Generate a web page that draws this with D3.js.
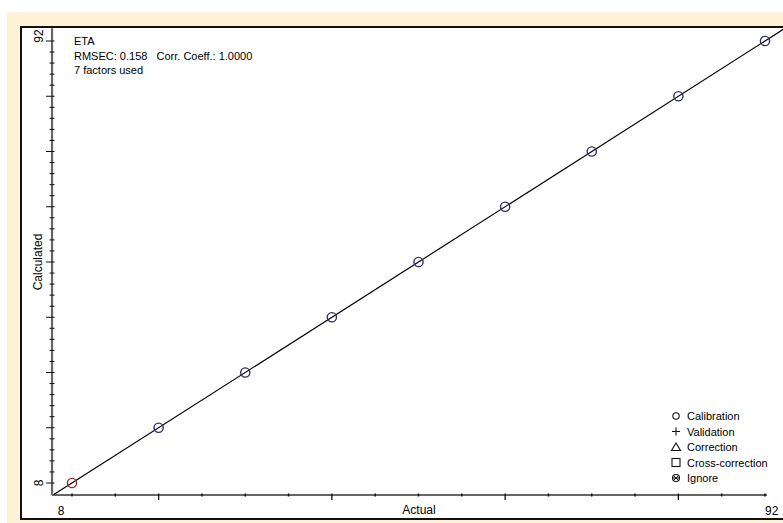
<!DOCTYPE html>
<html><head><meta charset="utf-8">
<script src="https://cdn.jsdelivr.net/npm/d3@7"></script>
<style>
html,body{margin:0;padding:0;background:#fff;}
svg text{font-family:"Liberation Sans",Arial,sans-serif;fill:#000;}
</style></head>
<body>
<svg id="c" width="783" height="523"></svg>
<script>
// ---- data ----
const actual     = [8, 18.5, 29, 39.5, 50, 60.5, 71, 81.5, 92];
const calculated = [8, 18.5, 29, 39.5, 50, 60.5, 71, 81.5, 92];
const xTickLabels = ["8", "92"];
const yTickLabels = ["8", "92"];
const infoLines = ["ETA", "RMSEC: 0.158   Corr. Coeff.: 1.0000", "7 factors used"];
const legendItems = ["Calibration", "Validation", "Correction", "Cross-correction", "Ignore"];
const fitLine = [5.8, 95];

const svg = d3.select("#c");
// background
svg.append("rect").attr("x",7).attr("y",12).attr("width",776).attr("height",511).attr("fill","#fdf2d8");
svg.append("rect").attr("x",21).attr("y",27).attr("width",770).attr("height",492)
   .attr("fill","#fff").attr("stroke","#111").attr("stroke-width",2);

const x = d3.scaleLinear().domain([8,92]).range([72,765]);
const y = d3.scaleLinear().domain([8,92]).range([483,41]);
const xExt = [5.58, 92.24], yExt = [5.72, 94.4];
const x0 = x(xExt[0]), y0 = y(yExt[0]);

svg.append("clipPath").attr("id","clip").append("rect").attr("x",22).attr("y",28).attr("width",761).attr("height",490);

// axis lines
svg.append("line").attr("x1",x(xExt[0])).attr("x2",x(xExt[1])).attr("y1",y0).attr("y2",y0).attr("stroke","#666").attr("stroke-width",2.2);
svg.append("line").attr("x1",x0).attr("x2",x0).attr("y1",y(yExt[1])).attr("y2",y0).attr("stroke","#666").attr("stroke-width",2.2);

// x ticks
const xMinor = d3.range(0,17).map(i=>8+i*5.25).filter((v,i)=>(i%4)!==2);
const xMajor = d3.range(0,4).map(i=>18.5+i*21);
const gx = svg.append("g");
gx.selectAll(".xm").data(xMinor).join("line").attr("x1",d=>x(d)).attr("x2",d=>x(d)).attr("y1",y0-1.5).attr("y2",y0+1.5).attr("stroke","#111").attr("stroke-width",1.5);
gx.selectAll(".xM").data(xMajor).join("line").attr("x1",d=>x(d)).attr("x2",d=>x(d)).attr("y1",y0-1.5).attr("y2",y0+5).attr("stroke","#111").attr("stroke-width",1.3);

// y ticks
const yAll = d3.range(0,41).map(i=>8+i*2.1);
const gy = svg.append("g");
gy.selectAll("line").data(yAll).join("line")
  .attr("x1",(d,i)=> i%5===0 ? x0-6 : x0-2.5).attr("x2",x0+2.5)
  .attr("y1",d=>y(d)).attr("y2",d=>y(d)).attr("stroke","#111").attr("stroke-width",1);

// tick labels
svg.append("text").attr("x",61).attr("y",515).attr("text-anchor","middle").attr("font-size",12).text(xTickLabels[0]);
svg.append("text").attr("x",765).attr("y",515).attr("text-anchor","start").attr("font-size",12).text(xTickLabels[1]);
svg.append("text").attr("transform",`translate(43,${y(8)}) rotate(-90)`).attr("text-anchor","middle").attr("font-size",12).text(yTickLabels[0]);
svg.append("text").attr("transform",`translate(43,36) rotate(-90)`).attr("text-anchor","middle").attr("font-size",12).text(yTickLabels[1]);

// axis titles
svg.append("text").attr("x",419).attr("y",514).attr("text-anchor","middle").attr("font-size",12).text("Actual");
svg.append("text").attr("transform",`translate(42,262) rotate(-90)`).attr("text-anchor","middle").attr("font-size",12).text("Calculated");

// fit line
svg.append("line").attr("clip-path","url(#clip)")
  .attr("x1",x(fitLine[0])).attr("y1",y(fitLine[0])).attr("x2",x(fitLine[1])).attr("y2",y(fitLine[1]))
  .attr("stroke","#000").attr("stroke-width",1.2);

// points
svg.selectAll(".pt").data(actual).join("circle")
  .attr("cx",d=>x(d)).attr("cy",(d,i)=>y(calculated[i])).attr("r",4.6)
  .attr("fill","none").attr("stroke",(d,i)=> i===0 ? "#9a2b2b" : "#2e2e6e").attr("stroke-width",1.4);

// info text
svg.selectAll(".info").data(infoLines).join("text")
  .attr("x",74).attr("y",(d,i)=>45+i*14.5).attr("font-size",11).style("white-space","pre").attr("xml:space","preserve").text(d=>d);

// legend
const lg = svg.append("g");
const ly = i => 416 + i*15.5;
legendItems.forEach((t,i)=>{
  lg.append("text").attr("x",687).attr("y",ly(i)+4).attr("font-size",11).text(t);
});
lg.append("circle").attr("cx",676).attr("cy",ly(0)).attr("r",3.2).attr("fill","none").attr("stroke","#111").attr("stroke-width",1.1);
lg.append("path").attr("d",`M672,${ly(1)}h8M676,${ly(1)-4}v8`).attr("stroke","#111").attr("stroke-width",1.1);
lg.append("path").attr("d",`M676,${ly(2)-4}L680.5,${ly(2)+3.5}L671.5,${ly(2)+3.5}Z`).attr("fill","none").attr("stroke","#111").attr("stroke-width",1.1);
lg.append("rect").attr("x",672).attr("y",ly(3)-4).attr("width",8).attr("height",8).attr("fill","none").attr("stroke","#111").attr("stroke-width",1.1);
lg.append("circle").attr("cx",676).attr("cy",ly(4)).attr("r",3.5).attr("fill","none").attr("stroke","#111").attr("stroke-width",1.1);
lg.append("path").attr("d",`M673,${ly(4)-3}L679,${ly(4)+3}M679,${ly(4)-3}L673,${ly(4)+3}M672,${ly(4)}h8`).attr("stroke","#111").attr("stroke-width",1);
</script>
</body></html>
